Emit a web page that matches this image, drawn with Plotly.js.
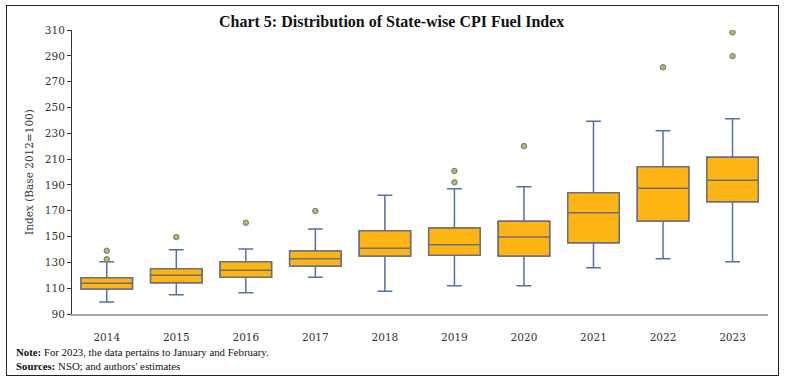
<!DOCTYPE html>
<html>
<head>
<meta charset="utf-8">
<script src="https://cdn.plot.ly/plotly-3.0.1.min.js"></script>
<style>
  html, body { margin: 0; padding: 0; background: #fff; }
  #wrap { position: relative; width: 788px; height: 383px; }
  #chart { position: absolute; left: 0; top: 0; width: 788px; height: 383px; }
  #frame { position: absolute; left: 6px; top: 5px; width: 773px; height: 371px; border: 1.5px solid #222; box-sizing: border-box; pointer-events: none; }
</style>
</head>
<body>
<div id="wrap">
  <div id="chart"></div>
  <div id="frame"></div>
</div>
<script>
// Data
const years = ['2014','2015','2016','2017','2018','2019','2020','2021','2022','2023'];
const lowerWhisker = [99.3, 104.9, 106.5, 118.4, 107.6, 111.9, 111.9, 125.9, 132.8, 130.5];
const q1Values     = [109.4, 114.2, 118.4, 127.2, 134.9, 135.5, 134.9, 145.2, 162.0, 177.0];
const medianValues = [113.8, 120.0, 123.8, 132.8, 140.9, 143.7, 149.6, 168.5, 187.4, 193.6];
const q3Values     = [118.1, 125.1, 130.5, 138.8, 154.5, 156.6, 161.8, 184.0, 204.1, 211.4];
const upperWhisker = [130.5, 139.8, 140.3, 155.8, 181.9, 187.1, 188.6, 239.3, 232.0, 241.3];
const outlierYears  = ['2014','2014','2015','2016','2017','2019','2019','2020','2022','2023','2023'];
const outlierValues = [139.0, 132.4, 149.6, 160.7, 169.8, 192.0, 200.8, 220.1, 281.1, 289.8, 308.2];
const yTicks = [90,110,130,150,170,190,210,230,250,270,290,310];

const serif = '"DejaVu Serif", "Liberation Serif", serif';

const whiskerTrace = {
  type: 'box',
  x: years,
  q1: q1Values,
  median: medianValues,
  q3: q3Values,
  lowerfence: lowerWhisker,
  upperfence: upperWhisker,
  fillcolor: '#FDB515',
  line: { color: '#5470A8', width: 1.5 },
  whiskerwidth: 0.29,
  boxpoints: false,
  hoverinfo: 'skip',
  showlegend: false
};

const boxTrace = {
  type: 'box',
  x: years,
  q1: q1Values,
  median: medianValues,
  q3: q3Values,
  lowerfence: q1Values,
  upperfence: q3Values,
  fillcolor: '#FDB515',
  line: { color: '#6E6E78', width: 1.5 },
  whiskerwidth: 0,
  boxpoints: false,
  showlegend: false
};

const outlierTrace = {
  type: 'scatter',
  mode: 'markers',
  x: outlierYears,
  y: outlierValues,
  marker: { size: 5.5, color: '#B8B85A', line: { color: '#777777', width: 1 } },
  showlegend: false
};

const layout = {
  width: 788,
  height: 383,
  margin: { l: 72, r: 20, t: 30, b: 69 },
  paper_bgcolor: '#ffffff',
  plot_bgcolor: '#ffffff',
  boxmode: 'overlay',
  boxgap: 0.26,
  boxgroupgap: 0,
  font: { family: serif, color: '#333' },
  title: {
    text: '<b>Chart 5: Distribution of State-wise CPI Fuel Index</b>',
    font: { family: '"Liberation Serif", "DejaVu Serif", serif', size: 16, color: '#111' },
    x: 0.497, xanchor: 'center', y: 0.945, yanchor: 'middle'
  },
  xaxis: {
    type: 'category',
    range: [-0.5, 9.51],
    showgrid: false,
    zeroline: false,
    showline: true,
    linecolor: '#A6A6A6',
    linewidth: 2,
    ticks: '',
    tickfont: { family: '"DejaVu Serif", serif', size: 10.5, color: '#333' },
    ticklabelstandoff: 12
  },
  yaxis: {
    range: [90, 310],
    tickvals: yTicks,
    ticktext: yTicks.map(String),
    showgrid: false,
    zeroline: false,
    showline: true,
    linecolor: '#333',
    linewidth: 1,
    ticks: 'outside',
    ticklen: 4,
    tickcolor: '#333',
    tickfont: { family: '"DejaVu Serif", serif', size: 10.5, color: '#333' },
    title: { text: 'Index (Base 2012=100)', font: { family: '"DejaVu Serif", serif', size: 10.5, color: '#333' }, standoff: 9 }
  },
  annotations: [
    { xref: 'paper', yref: 'paper', x: -0.083, y: -0.135, xanchor: 'left', yanchor: 'middle', showarrow: false,
      text: '<b>Note:</b> For 2023, the data pertains to January and February.',
      font: { family: '"Liberation Serif", serif', size: 10.8, color: '#111' } },
    { xref: 'paper', yref: 'paper', x: -0.083, y: -0.183, xanchor: 'left', yanchor: 'middle', showarrow: false,
      text: '<b>Sources:</b> NSO; and authors\' estimates',
      font: { family: '"Liberation Serif", serif', size: 10.8, color: '#111' } }
  ]
};

Plotly.newPlot('chart', [whiskerTrace, boxTrace, outlierTrace], layout, { displayModeBar: false, staticPlot: true });
</script>
</body>
</html>
